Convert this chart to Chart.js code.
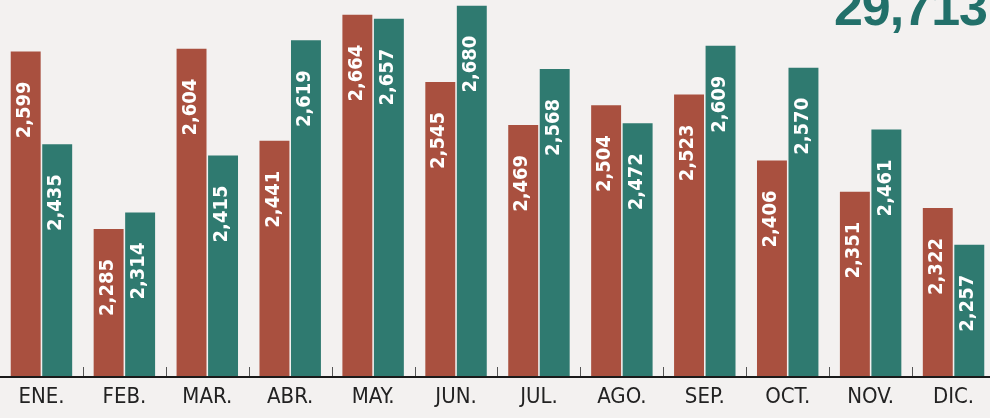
<!DOCTYPE html>
<html>
<head>
<meta charset="utf-8">
<script src="https://cdn.jsdelivr.net/npm/chart.js@4"></script>
<style>
  html, body { margin: 0; padding: 0; background: #f3f1f0; overflow: hidden; }
  #wrap { position: relative; width: 995px; height: 418px; }
  #total {
    position: absolute; right: 3px; top: -23px; margin: 0;
    font: bold 52px 'Liberation Sans', Arial, sans-serif;
    color: #22706a; letter-spacing: -1px;
  }
</style>
</head>
<body>
<div id="wrap">
  <canvas id="chart" width="995" height="418"></canvas>
</div>
<div id="total"></div>
<script>
const months = ['ENE.', 'FEB.', 'MAR.', 'ABR.', 'MAY.', 'JUN.', 'JUL.', 'AGO.', 'SEP.', 'OCT.', 'NOV.', 'DIC.'];
const seriesA = [2599, 2285, 2604, 2441, 2664, 2545, 2469, 2504, 2523, 2406, 2351, 2322];
const seriesB = [2435, 2314, 2415, 2619, 2657, 2680, 2568, 2472, 2609, 2570, 2461, 2257];
const totalLabel = '29,713';

const colorA = '#a9503f';
const colorB = '#2f7a70';
const narrow = '"DejaVu Sans Condensed", "Liberation Sans Narrow", Roboto, sans-serif';

document.getElementById('total').textContent = totalLabel;

const fmt = new Intl.NumberFormat('en-US');

// white rotated numbers near the top of each bar
const barLabels = {
    id: 'barLabels',
    afterDatasetsDraw(chart) {
        const ctx = chart.ctx;
        ctx.save();
        ctx.fillStyle = '#ffffff';
        ctx.font = 'bold 20px ' + narrow;
        ctx.textAlign = 'right';
        ctx.textBaseline = 'middle';
        chart.data.datasets.forEach((ds, i) => {
            chart.getDatasetMeta(i).data.forEach((bar, j) => {
                ctx.save();
                ctx.translate(bar.x - 1, bar.y + 30);
                ctx.rotate(-Math.PI / 2);
                ctx.fillText(fmt.format(ds.data[j]), 0, 0);
                ctx.restore();
            });
        });
        ctx.restore();
    }
};

// baseline and the little ticks between months
const baseline = {
    id: 'baseline',
    afterDatasetsDraw(chart) {
        const { ctx, chartArea } = chart;
        const x = chart.scales.x;
        ctx.save();
        ctx.strokeStyle = '#1a1a1a';
        ctx.lineWidth = 2;
        ctx.beginPath();
        ctx.moveTo(0, chartArea.bottom + 1);
        ctx.lineTo(chart.width, chartArea.bottom + 1);
        ctx.stroke();
        ctx.lineWidth = 1;
        ctx.strokeStyle = '#555';
        for (let i = 1; i < months.length; i++) {
            const bx = Math.round((x.getPixelForValue(i - 1) + x.getPixelForValue(i)) / 2) + 0.5;
            ctx.beginPath();
            ctx.moveTo(bx, chartArea.bottom - 9);
            ctx.lineTo(bx, chartArea.bottom);
            ctx.stroke();
        }
        ctx.restore();
    }
};

new Chart(document.getElementById('chart'), {
    type: 'bar',
    data: {
        labels: months,
        datasets: [
            { data: seriesA, backgroundColor: colorA },
            { data: seriesB, backgroundColor: colorB },
        ],
    },
    options: {
        responsive: false,
        animation: false,
        layout: { padding: 0 },
        datasets: {
            bar: { categoryPercentage: 0.76, barPercentage: 0.95 },
        },
        scales: {
            x: {
                grid: { display: false, drawTicks: false },
                border: { display: false },
                ticks: {
                    color: '#222',
                    padding: 10,
                    font: { family: narrow, size: 22, lineHeight: 1.0 },
                },
            },
            y: {
                display: false,
                min: 2025,
                max: 2690,
            },
        },
        plugins: {
            legend: { display: false },
            tooltip: { enabled: false },
        },
    },
    plugins: [barLabels, baseline],
});
</script>
</body>
</html>
